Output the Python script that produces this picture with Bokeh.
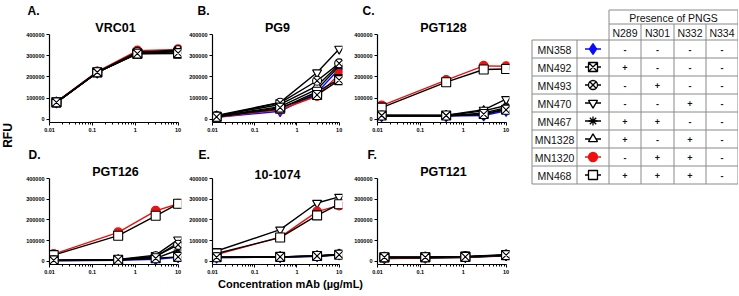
import math
from bokeh.plotting import figure
from bokeh.layouts import row, column
from bokeh.models import Range1d, FixedTicker, BasicTickFormatter, CustomJSTickFormatter
from bokeh.core.properties import value
from bokeh.embed import file_html
from bokeh.resources import INLINE

FONT = "Liberation Sans"

# ---------------- data ----------------
strains = ["MN358", "MN492", "MN493", "MN470", "MN467", "MN1328", "MN1320", "MN468"]
strain_markers = ["diamond", "square_x", "circle_x", "inverted_triangle", "asterisk", "triangle", "circle", "square"]
strain_colors = ["#0a0aff", "#000000", "#000000", "#000000", "#000000", "#000000", "#ee1111", "#000000"]
strain_fills = ["#0a0aff", "#ffffff", "#ffffff", "#ffffff", "#000000", "#ffffff", "#ee1111", "#ffffff"]
strain_sizes = [11, 9, 9, 9, 9, 9, 9, 9]
draw_order = [0, 4, 5, 3, 6, 7, 2, 1]

sites = ["N289", "N301", "N332", "N334"]
pngs_presence = [
    ["-", "-", "-", "-"],
    ["+", "-", "-", "-"],
    ["-", "+", "-", "-"],
    ["-", "-", "+", "-"],
    ["+", "+", "-", "-"],
    ["+", "-", "+", "-"],
    ["-", "+", "+", "-"],
    ["+", "+", "+", "-"],
]

panel_letters = ["A.", "B.", "C.", "D.", "E.", "F."]
antibodies = ["VRC01", "PG9", "PGT128", "PGT126", "10-1074", "PGT121"]

conc_ninefold = [0.0145, 0.13, 1.12, 10]
conc_mixed = [0.0125, 0.4, 3.0, 10]

vrc01_rfu = [
    [80000, 221000, 316000, 322000],
    [80000, 222000, 310000, 312000],
    [81000, 223000, 318000, 326000],
    [80000, 220000, 312000, 318000],
    [79000, 221000, 314000, 320000],
    [80000, 222000, 315000, 324000],
    [82000, 225000, 324000, 330000],
    [80000, 221000, 309000, 310000],
]
pg9_rfu = [
    [10000, 38000, 126000, 237000],
    [12000, 55000, 115000, 185000],
    [15000, 78000, 182000, 264000],
    [18000, 80000, 221000, 332000],
    [14000, 60000, 142000, 250000],
    [16000, 70000, 158000, 258000],
    [10000, 45000, 110000, 213000],
    [12000, 50000, 130000, 190000],
]
pgt128_rfu = [
    [15000, 15000, 18000, 40000],
    [18000, 18000, 25000, 45000],
    [18000, 17000, 22000, 50000],
    [20000, 20000, 45000, 95000],
    [15000, 15000, 30000, 55000],
    [17000, 18000, 40000, 65000],
    [65000, 185000, 252000, 250000],
    [55000, 175000, 235000, 237000],
]
pgt126_rfu = [
    [3000, 5000, 10000, 20000],
    [5000, 8000, 15000, 22000],
    [5000, 8000, 25000, 80000],
    [6000, 9000, 30000, 105000],
    [4000, 6000, 15000, 55000],
    [5000, 7000, 22000, 90000],
    [35000, 140000, 244000, 278000],
    [30000, 124000, 220000, 278000],
]
ab101074_rfu = [
    [18000, 20000, 25000, 33000],
    [20000, 22000, 26000, 32000],
    [21000, 22000, 27000, 34000],
    [50000, 153000, 282000, 311000],
    [19000, 21000, 25000, 31000],
    [20000, 22000, 26000, 33000],
    [33000, 117000, 240000, 270000],
    [38000, 115000, 222000, 276000],
]
pgt121_rfu = [
    [16000, 18000, 21000, 30000],
    [20000, 20000, 22000, 30000],
    [22000, 22000, 24000, 32000],
    [15000, 17000, 20000, 28000],
    [14000, 16000, 19000, 27000],
    [18000, 19000, 22000, 29000],
    [17000, 18000, 21000, 30000],
    [19000, 20000, 23000, 31000],
]

panel_conc = [conc_ninefold, conc_mixed, conc_mixed, conc_mixed, conc_mixed, conc_ninefold]
panel_rfu = [vrc01_rfu, pg9_rfu, pgt128_rfu, pgt126_rfu, ab101074_rfu, pgt121_rfu]

y_ticks = [0, 100000, 200000, 300000, 400000]
x_ticks = [0.01, 0.1, 1, 10]
x_minor = [k * 10.0 ** e for e in (-2, -1, 0) for k in range(2, 10)]

# ---------------- layout geometry (pixels) ----------------
LEFT_W = 22
col_w = [164, 161, 180]
col_left = [27, 24, 30]
col_right = [5, 5, 18]
head_h = [18, 22]
row_h = [122, 114]
row_top = [16, 15]
row_bottom = [18, 12]
letter_x = [[27, 197, 362], [28, 198, 367]]
letter_y = [10, 14]
title_dx = [-3, 2, 7, 0, -5, -2]
PANELS_W = sum(col_w)
TOTAL_H = 295
X_START, X_END = 0.01, 12
Y_START, Y_END = -15000, 400000


def make_panel(idx):
    r, c = divmod(idx, 3)
    p = figure(width=col_w[c], height=row_h[r], x_axis_type="log",
               x_range=Range1d(X_START, X_END), y_range=Range1d(Y_START, Y_END),
               toolbar_location=None, output_backend="svg", title=antibodies[idx],
               min_border_left=col_left[c], min_border_right=col_right[c],
               min_border_top=row_top[r], min_border_bottom=row_bottom[r],
               outline_line_color=None)
    p.title.align = "center"
    p.title.offset = title_dx[idx]
    p.title.text_font = FONT
    p.title.text_font_style = "bold"
    p.title.text_font_size = "12.5px"
    p.title.text_color = "#000000"
    p.title.standoff = 0
    p.grid.visible = False
    p.xaxis.ticker = FixedTicker(ticks=x_ticks, minor_ticks=x_minor)
    p.xaxis.formatter = CustomJSTickFormatter(code="return String(tick);")
    p.xaxis.bounds = (0.01, 10)
    p.yaxis.ticker = FixedTicker(ticks=y_ticks)
    p.yaxis.formatter = BasicTickFormatter(use_scientific=False)
    for ax in (p.xaxis, p.yaxis):
        ax.axis_line_width = 1.2
        ax.axis_line_color = "#000000"
        ax.major_tick_line_color = "#000000"
        ax.major_tick_in = 0
        ax.major_tick_out = 3
        ax.minor_tick_in = 0
        ax.minor_tick_out = 2
        ax.major_label_text_font = FONT
        ax.major_label_text_font_size = "5.5px"
        ax.major_label_text_font_style = "bold"
        ax.major_label_text_color = "#000000"
        ax.major_label_standoff = 2
    p.yaxis.minor_tick_line_color = None

    conc = panel_conc[idx]
    rfu_vals = panel_rfu[idx]
    for i in draw_order:
        p.line(conc, rfu_vals[i], line_color=strain_colors[i], line_width=1.4)
        p.scatter(conc, rfu_vals[i], marker=strain_markers[i], size=strain_sizes[i],
                  line_color=strain_colors[i], fill_color=strain_fills[i], line_width=1.1)
    return p


def make_header(r):
    h = figure(width=PANELS_W, height=head_h[r], x_range=Range1d(0, PANELS_W),
               y_range=Range1d(head_h[r], 0), toolbar_location=None, output_backend="svg",
               min_border=0, x_axis_type=None, y_axis_type=None, outline_line_color=None,
               title=None)
    h.text(x=[x - LEFT_W for x in letter_x[r]], y=[letter_y[r]] * 3,
           text=panel_letters[3 * r:3 * r + 3], text_align="left", text_baseline="middle",
           text_font=value(FONT), text_font_style="bold", text_font_size="12px", text_color="#000000")
    return h


panels = [make_panel(i) for i in range(6)]
headers = [make_header(0), make_header(1)]

# RFU label
rfu = figure(width=LEFT_W, height=TOTAL_H, x_range=Range1d(0, LEFT_W), y_range=Range1d(0, TOTAL_H),
             toolbar_location=None, output_backend="svg", min_border=0, title=None,
             x_axis_type=None, y_axis_type=None, outline_line_color=None)
rfu.text(x=[7], y=[TOTAL_H - 135], text=["RFU"], angle=math.pi / 2, text_align="center",
         text_baseline="middle", text_font=value(FONT), text_font_style="bold",
         text_font_size="12px", text_color="#000000")

# x label
XL_H = TOTAL_H - sum(head_h) - sum(row_h)
xlab = figure(width=PANELS_W, height=XL_H, x_range=Range1d(0, PANELS_W), y_range=Range1d(XL_H, 0),
              toolbar_location=None, output_backend="svg", min_border=0, title=None,
              x_axis_type=None, y_axis_type=None, outline_line_color=None)
xlab.text(x=[290 - LEFT_W], y=[283 - (TOTAL_H - XL_H)], text=["Concentration mAb (µg/mL)"],
          text_align="center", text_baseline="middle", text_font=value(FONT),
          text_font_style="bold", text_font_size="11px", text_color="#000000")

# table
TW = 211
tab = figure(width=TW, height=TOTAL_H, x_range=Range1d(0, TW), y_range=Range1d(TOTAL_H, 0),
             toolbar_location=None, output_backend="svg", min_border=0, title=None,
             x_axis_type=None, y_axis_type=None, outline_line_color=None)
ce = [4.5, 49.5, 81.5, 113.5, 146.5, 178.5, 210.5]
head_top, head_mid, head_bot = 9.5, 23.5, 39.5
rh = 18
n = len(strains)
re_ = [head_bot + rh * i for i in range(n + 1)]
bottom = re_[-1]
x0, y0, x1, y1 = [], [], [], []
for yy in (head_top, head_mid):
    x0.append(ce[2]); x1.append(ce[6]); y0.append(yy); y1.append(yy)
for yy in re_:
    x0.append(ce[0]); x1.append(ce[6]); y0.append(yy); y1.append(yy)
for j, xx in enumerate(ce):
    top = head_bot if j < 2 else (head_top if j in (2, 6) else head_mid)
    x0.append(xx); x1.append(xx); y0.append(top); y1.append(bottom)
tab.segment(x0=x0, y0=y0, x1=x1, y1=y1, line_color="#8a8a8a", line_width=1)

tab.text(x=[(ce[2] + ce[6]) / 2], y=[(head_top + head_mid) / 2 + 0.5], text=["Presence of PNGS"],
         text_align="center", text_baseline="middle", text_font=value(FONT),
         text_font_size="10.5px", text_color="#111111")
site_x = [(ce[k + 2] + ce[k + 3]) / 2 for k in range(len(sites))]
tab.text(x=site_x, y=[(head_mid + head_bot) / 2 + 0.5] * len(sites), text=sites,
         text_align="center", text_baseline="middle", text_font=value(FONT),
         text_font_size="10.5px", text_color="#111111")
row_c = [(re_[i] + re_[i + 1]) / 2 + 0.5 for i in range(n)]
tab.text(x=[(ce[0] + ce[1]) / 2] * n, y=row_c, text=strains,
         text_align="center", text_baseline="middle", text_font=value(FONT),
         text_font_size="10.5px", text_color="#111111")
icon_x = (ce[1] + ce[2]) / 2
for i in range(n):
    tab.segment(x0=[icon_x - 8], y0=[row_c[i] - 0.5], x1=[icon_x + 8], y1=[row_c[i] - 0.5],
                line_color=strain_colors[i], line_width=1.4)
    tab.scatter(x=[icon_x], y=[row_c[i] - 0.5], marker=strain_markers[i], size=strain_sizes[i],
                line_color=strain_colors[i], fill_color=strain_fills[i], line_width=1.3)
sym_x, sym_y, sym_t = [], [], []
for i in range(n):
    for k in range(len(sites)):
        sym_x.append(site_x[k]); sym_y.append(row_c[i]); sym_t.append(pngs_presence[i][k])
tab.text(x=sym_x, y=sym_y, text=sym_t, text_align="center", text_baseline="middle",
         text_font=value(FONT), text_font_style="bold", text_font_size="9px", text_color="#111111")

layout = row(rfu, column(headers[0], row(*panels[:3]), headers[1], row(*panels[3:]), xlab), tab)

with open("out.html", "w") as f:
    f.write(file_html(layout, INLINE))
